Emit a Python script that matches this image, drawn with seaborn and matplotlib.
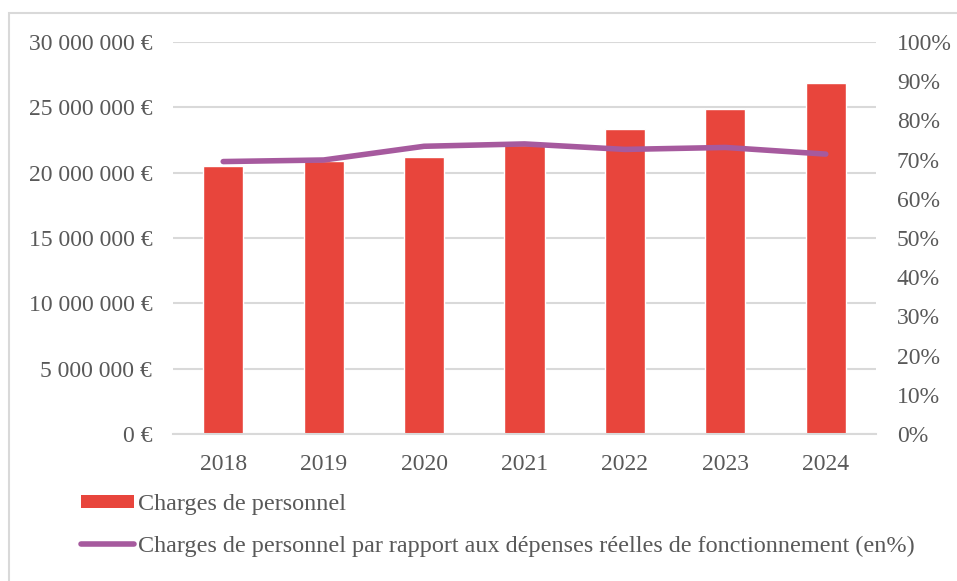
import pandas as pd
import numpy as np
import matplotlib
matplotlib.use("Agg")
import matplotlib.pyplot as plt
import matplotlib.ticker as mticker
from matplotlib.patches import Patch, Rectangle
from matplotlib.lines import Line2D
import seaborn as sns

years = ['2018', '2019', '2020', '2021', '2022', '2023', '2024']
charges = [20480000, 20900000, 21200000, 22100000, 23380000, 24880000, 26850000]
ratio = [69.5, 69.9, 73.4, 74.0, 72.6, 73.1, 71.4]

bar_label = "Charges de personnel"
line_label = "Charges de personnel par rapport aux dépenses réelles de fonctionnement (en%)"

red = '#E8453C'
purple = '#A65A9E'
grey_txt = '#595959'
grid_col = '#D9D9D9'

df = pd.DataFrame({'Année': years, 'Charges': charges, 'Ratio': ratio})

sns.set_style('white')
plt.rcParams['font.family'] = ['Liberation Serif', 'DejaVu Serif']
plt.rcParams['font.size'] = 17

fig = plt.figure(figsize=(9.57, 5.81), dpi=100)
ax1 = fig.add_axes([173/957, 1 - 434/581, 703/957, 392/581])
ax2 = ax1.twinx()

sns.barplot(data=df, x='Année', y='Charges', color=red, width=0.4,
            saturation=1, ax=ax1, zorder=2)
sns.lineplot(x=np.arange(len(years)), y=df['Ratio'], color=purple, linewidth=4,
             solid_capstyle='round', ax=ax2, zorder=3)

ax1.set_xlim(-0.5, len(years) - 0.5)
ax1.set_ylim(0, 30000000)
ax1.yaxis.set_major_locator(mticker.MultipleLocator(5000000))
ax1.yaxis.set_major_formatter(mticker.FuncFormatter(
    lambda v, p: f"{int(v):,}".replace(',', ' ') + " €"))
ax2.set_ylim(0, 100)
ax2.yaxis.set_major_locator(mticker.MultipleLocator(10))
ax2.yaxis.set_major_formatter(mticker.FuncFormatter(lambda v, p: f"{int(v)}%"))

ax1.grid(axis='y', color=grid_col, linewidth=1.5, zorder=0)
ax1.set_axisbelow(True)
for ax in (ax1, ax2):
    ax.set_xlabel('')
    ax.set_ylabel('')
    for s in ax.spines.values():
        s.set_visible(False)
ax1.spines['bottom'].set_visible(True)
ax1.spines['bottom'].set_color(grid_col)
ax1.spines['bottom'].set_linewidth(1.5)

ax1.tick_params(axis='y', length=0, pad=15, labelcolor=grey_txt, labelsize=17)
ax1.tick_params(axis='x', length=0, pad=14.5, labelcolor=grey_txt, labelsize=17)
ax2.tick_params(axis='y', length=0, pad=15, labelcolor=grey_txt, labelsize=17)

handles = [Patch(facecolor=red, edgecolor='none', label=bar_label),
           Line2D([0], [0], color=purple, linewidth=4, solid_capstyle='round', label=line_label)]
leg = fig.legend(handles=handles, loc='upper left', bbox_to_anchor=(81/957, 1 - 494/581),
                 frameon=False, fontsize=17.4, handlelength=2.2, handleheight=0.5,
                 handletextpad=0.15, labelspacing=0.85, borderpad=0, borderaxespad=0)
for t in leg.get_texts():
    t.set_color(grey_txt)

fig.patches.append(Rectangle((9/957, -0.1), 1.1, 1 - 13/581 + 0.1, transform=fig.transFigure,
                             fill=False, edgecolor=grid_col, linewidth=1.5))

fig.savefig('out.png', dpi=100)
